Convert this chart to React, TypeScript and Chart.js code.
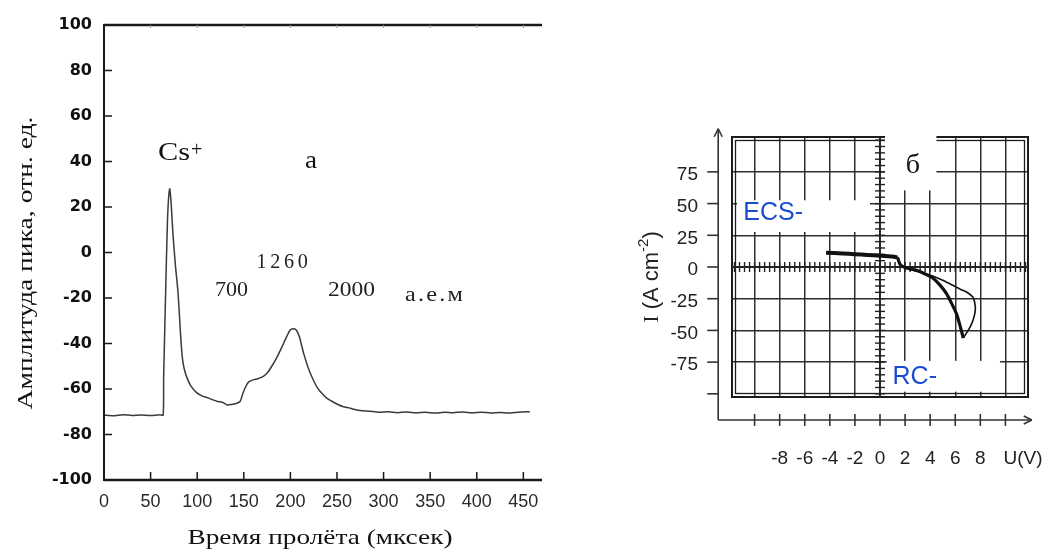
import React, { useEffect, useRef } from 'react';
import { Chart, registerables } from 'chart.js';

Chart.register(...registerables);

// ---- Panel "а": time-of-flight spectrum ----
const tofTime = [0, 10, 20, 30, 40, 50, 60, 63.5, 64, 66, 67, 68.5, 70.5, 72, 74, 76.5, 79.5, 82, 84, 86, 89, 93, 99, 105, 111, 117, 122, 127, 132, 137, 141, 146, 149, 152, 155, 160, 165, 171, 176, 180, 185, 191, 196, 200, 204, 207, 210, 214, 219, 224, 229, 234, 239, 245, 251, 257, 263, 269, 275, 285, 295, 305, 315, 325, 335, 345, 355, 365, 375, 385, 395, 405, 415, 425, 435, 445, 457];
const tofAmplitude = [-71.5, -71.8, -71.3, -71.6, -71.4, -71.7, -71.3, -71.5, -55, -20, -3, 18, 28, 22, 8, -5, -18, -35, -46, -51, -55, -58.5, -61.5, -63, -63.8, -64.8, -65.5, -65.8, -67, -66.8, -66.5, -65.5, -62, -59, -57, -56, -55.5, -54.5, -52.5, -50, -46.5, -41.5, -37, -34, -33.5, -34.5, -37.5, -44, -50.5, -55.5, -59.5, -62, -64, -65.5, -66.8, -67.8, -68.3, -69, -69.5, -69.8, -70.2, -70, -70.4, -70.1, -70.5, -70.2, -70.6, -70.2, -70.4, -70.1, -70.5, -70.2, -70.5, -70.3, -70.6, -70.2, -70];
const tofXTicks = [0, 50, 100, 150, 200, 250, 300, 350, 400, 450];
const tofYTicks = [-100, -80, -60, -40, -20, 0, 20, 40, 60, 80, 100];
const tofXTitle = 'Время пролёта (мксек)';
const tofYTitle = 'Амплитуда пика, отн. ед.';
const massLabels = ['700', '1260', '2000', 'а.е.м'];

// ---- Panel "б": I–U characteristic ----
const ivFlatU = [-4.3, -3, -2, -1, 0, 1, 1.4];
const ivFlatI = [11.3, 10.7, 10.1, 9.5, 8.9, 8.2, 7.6];
const ivDownU = [1.4, 1.6, 1.9, 2.4, 2.9, 3.6, 4.25, 4.8, 5.3, 5.7, 6.1, 6.4, 6.64];
const ivDownI = [7.6, 2, 0, -1.5, -2.6, -5.5, -9, -14.5, -21, -28.5, -37, -47, -56];
const ivBackU = [6.64, 6.9, 7.2, 7.45, 7.6, 7.55, 7.4, 6.9, 6.4, 5.8, 5.0, 4.25, 3.4, 2.65, 2.0];
const ivBackI = [-56, -52, -47, -41, -34, -28, -23.6, -19.7, -17.5, -14.4, -10.5, -7.3, -4.5, -2.6, -0.5];
const ivXTicks = [-10, -8, -6, -4, -2, 0, 2, 4, 6, 8, 10];
const ivYTicks = [-100, -75, -50, -25, 0, 25, 50, 75, 100];

const toPts = (xs: number[], ys: number[]) => xs.map((x, i) => ({ x, y: ys[i] }));

const SERIF = '"Liberation Serif", "DejaVu Serif", serif';
const SANS = '"Liberation Sans", Arial, sans-serif';

function fitText(ctx: CanvasRenderingContext2D, text: string, cx: number, cy: number, font: string, width: number, angle = 0, spacing = '0px') {
  ctx.save();
  ctx.font = font;
  (ctx as any).letterSpacing = spacing;
  ctx.textAlign = 'center';
  ctx.textBaseline = 'middle';
  ctx.translate(cx, cy);
  if (angle) ctx.rotate(angle);
  const w = ctx.measureText(text).width;
  ctx.scale(width / w, 1);
  ctx.fillText(text, 0, 0);
  ctx.restore();
}

function seg(ctx: CanvasRenderingContext2D, x1: number, y1: number, x2: number, y2: number) {
  ctx.beginPath();
  ctx.moveTo(x1, y1);
  ctx.lineTo(x2, y2);
  ctx.stroke();
}

const leftDecor = {
  id: 'leftDecor',
  afterDraw(chart: any) {
    const { ctx, chartArea: a, scales } = chart;
    const x = scales.x, y = scales.y;
    ctx.save();
    ctx.strokeStyle = '#1a1a1a';
    ctx.lineWidth = 2;
    seg(ctx, a.left, a.top - 1, a.left, a.bottom + 1);
    ctx.lineWidth = 2.5;
    seg(ctx, a.left, a.top, a.right, a.top);
    seg(ctx, a.left, a.bottom, a.right, a.bottom);
    ctx.lineWidth = 1.5;
    tofYTicks.forEach((v) => {
      if (v > -100 && v < 100) {
        const py = y.getPixelForValue(v);
        seg(ctx, a.left, py, a.left + 8, py);
      }
    });
    tofXTicks.forEach((v) => {
      if (v > 0) {
        const px = x.getPixelForValue(v);
        ctx.strokeStyle = '#1a1a1a';
        ctx.lineWidth = 1.5;
        seg(ctx, px, a.bottom, px, a.bottom - 8);
        ctx.strokeStyle = '#999';
        ctx.lineWidth = 1;
        seg(ctx, px, a.top, px, a.top + 3);
      }
    });
    ctx.fillStyle = '#111';
    fitText(ctx, tofXTitle, 320, 538, `22px ${SERIF}`, 265);
    fitText(ctx, tofYTitle, 26, 263, `22px ${SERIF}`, 293, -Math.PI / 2);
    ctx.font = `26px ${SERIF}`;
    ctx.textAlign = 'left';
    ctx.textBaseline = 'alphabetic';
    ctx.save();
    ctx.translate(158, 160);
    const cw = ctx.measureText('Cs').width;
    ctx.scale(32 / cw, 1);
    ctx.fillText('Cs', 0, 0);
    ctx.restore();
    ctx.font = `20px ${SERIF}`;
    ctx.fillText('+', 191, 156);
    fitText(ctx, 'а', 311, 161, `26px ${SERIF}`, 12);
    ctx.fillStyle = '#222';
    fitText(ctx, massLabels[0], 231.5, 290.5, `22px ${SERIF}`, 33);
    fitText(ctx, massLabels[1], 284, 262.5, `22px ${SERIF}`, 55, 0, '4px');
    fitText(ctx, massLabels[2], 351.5, 290.5, `22px ${SERIF}`, 47);
    fitText(ctx, massLabels[3], 435, 295, `22px ${SERIF}`, 60, 0, '2px');
    ctx.restore();
  },
};

const rightDecor = {
  id: 'rightDecor',
  beforeDatasetsDraw(chart: any) {
    const { ctx, chartArea: a, scales } = chart;
    const x = scales.x, y = scales.y;
    ctx.save();
    ctx.strokeStyle = '#1c1c1c';
    ctx.lineWidth = 2;
    ctx.strokeRect(a.left, a.top, a.right - a.left, a.bottom - a.top);
    ctx.lineWidth = 1.3;
    ctx.strokeRect(a.left + 3.5, a.top + 3.5, a.right - a.left - 7, a.bottom - a.top - 7);
    const x0 = x.getPixelForValue(0);
    const y0 = y.getPixelForValue(0);
    ctx.lineWidth = 1.4;
    ctx.strokeStyle = '#222';
    for (let i = -29; i <= 29; i++) {
      const px = x.getPixelForValue(i * 0.4);
      seg(ctx, px, y0 - 5, px, y0 + 5);
    }
    for (let i = -20; i <= 20; i++) {
      const py = y.getPixelForValue(i * 5);
      seg(ctx, x0 - 5, py, x0 + 5, py);
    }
    ctx.lineWidth = 1.8;
    seg(ctx, x0, a.top, x0, a.bottom);
    seg(ctx, a.left, y0, a.right, y0);
    ctx.fillStyle = '#fff';
    const patch = (u1: number, i1: number, u2: number, i2: number) => {
      const px1 = x.getPixelForValue(u1), px2 = x.getPixelForValue(u2);
      const py1 = y.getPixelForValue(i1), py2 = y.getPixelForValue(i2);
      ctx.fillRect(px1, py1, px2 - px1, py2 - py1);
    };
    patch(0.4, 108, 4.5, 60.4);
    patch(-11.4, 52.6, -0.8, 27.6);
    patch(0.53, -74, 9.56, -98.3);
    ctx.restore();
  },
  afterDatasetsDraw(chart: any) {
    const { ctx, scales } = chart;
    const x = scales.x, y = scales.y;
    ctx.save();
    ctx.fillStyle = '#111';
    ctx.font = `28px ${SERIF}`;
    ctx.textAlign = 'center';
    ctx.textBaseline = 'middle';
    ctx.fillText('б', x.getPixelForValue(2.63), y.getPixelForValue(80));
    ctx.fillStyle = '#1a4bd4';
    ctx.font = `25px ${SANS}`;
    ctx.textAlign = 'left';
    ctx.fillText('ECS-', x.getPixelForValue(-10.9), y.getPixelForValue(42.7));
    ctx.fillText('RC-', x.getPixelForValue(1.0), y.getPixelForValue(-87));
    ctx.restore();
  },
  afterDraw(chart: any) {
    const { ctx, scales } = chart;
    const x = scales.x, y = scales.y;
    ctx.save();
    ctx.strokeStyle = '#333';
    ctx.lineWidth = 1.6;
    const ax = x.getPixelForValue(-12.9);
    const ay = y.getPixelForValue(-120.6);
    const yTop = y.getPixelForValue(109);
    const xEnd = x.getPixelForValue(12.1);
    seg(ctx, ax, yTop, ax, ay);
    seg(ctx, ax, ay, xEnd, ay);
    seg(ctx, ax - 4, yTop + 8, ax, yTop);
    seg(ctx, ax + 4, yTop + 8, ax, yTop);
    seg(ctx, xEnd - 8, ay - 4, xEnd, ay);
    seg(ctx, xEnd - 8, ay + 4, xEnd, ay);
    ivYTicks.forEach((v) => {
      if (v < 100) {
        const py = y.getPixelForValue(v);
        seg(ctx, ax - 11, py, ax, py);
      }
    });
    ivXTicks.forEach((v) => {
      const px = x.getPixelForValue(v);
      seg(ctx, px, ay - 6, px, ay + 6);
    });
    ctx.fillStyle = '#222';
    ctx.font = `19px ${SANS}`;
    ctx.textAlign = 'center';
    ctx.textBaseline = 'middle';
    ctx.fillText('U(V)', 423, 359);
    ctx.translate(50, 177);
    ctx.rotate(-Math.PI / 2);
    ctx.textAlign = 'left';
    ctx.textBaseline = 'alphabetic';
    const pI = 'I', p1 = ' (A cm', p2 = '-2', p3 = ')';
    ctx.font = `22px ${SERIF}`;
    const wI = ctx.measureText(pI).width;
    ctx.font = `22px ${SANS}`;
    const w1 = ctx.measureText(p1).width;
    const w3 = ctx.measureText(p3).width;
    ctx.font = `15px ${SANS}`;
    const w2 = ctx.measureText(p2).width;
    let cx = -(wI + w1 + w2 + w3) / 2;
    const base = 8;
    ctx.font = `22px ${SERIF}`;
    ctx.fillText(pI, cx, base);
    cx += wI;
    ctx.font = `22px ${SANS}`;
    ctx.fillText(p1, cx, base);
    cx += w1;
    ctx.font = `15px ${SANS}`;
    ctx.fillText(p2, cx, base - 10);
    cx += w2;
    ctx.font = `22px ${SANS}`;
    ctx.fillText(p3, cx, base);
    ctx.restore();
  },
};

function TofChart() {
  const ref = useRef<HTMLCanvasElement | null>(null);
  useEffect(() => {
    if (!ref.current) return;
    const chart = new Chart(ref.current, {
      type: 'scatter',
      data: {
        datasets: [
          {
            data: toPts(tofTime, tofAmplitude),
            showLine: true,
            borderColor: '#3a3a3a',
            borderWidth: 1.5,
            pointRadius: 0,
            tension: 0.2,
          },
        ],
      },
      options: {
        responsive: false,
        animation: false,
        devicePixelRatio: 1,
        layout: { padding: { top: 25, right: 18, left: 0, bottom: 0 } },
        plugins: { legend: { display: false }, tooltip: { enabled: false } },
        scales: {
          x: {
            type: 'linear',
            min: 0,
            max: 470,
            afterFit: (s: any) => { s.height = 74; },
            afterBuildTicks: (s: any) => { s.ticks = tofXTicks.map((v) => ({ value: v })); },
            grid: { display: false, drawTicks: false },
            border: { display: false },
            ticks: {
              padding: 11,
              maxRotation: 0,
              autoSkip: false,
              color: '#2a2a2a',
              font: { family: '"Liberation Sans", Arial, sans-serif', size: 18 },
              callback: (v: any) => String(v),
            },
          },
          y: {
            type: 'linear',
            min: -100,
            max: 100,
            afterFit: (s: any) => { s.width = 104; },
            afterBuildTicks: (s: any) => { s.ticks = tofYTicks.map((v) => ({ value: v })); },
            grid: { display: false, drawTicks: false },
            border: { display: false },
            ticks: {
              padding: 12,
              autoSkip: false,
              color: '#111',
              font: { family: '"DejaVu Sans", sans-serif', size: 16, weight: 'bold' },
              callback: (v: any) => String(v),
            },
          },
        },
      },
      plugins: [leftDecor],
    } as any);
    return () => chart.destroy();
  }, []);
  return <canvas ref={ref} width={560} height={554} style={{ position: 'absolute', left: 0, top: 0, width: 560, height: 554 }} />;
}

function IvChart() {
  const ref = useRef<HTMLCanvasElement | null>(null);
  useEffect(() => {
    if (!ref.current) return;
    const chart = new Chart(ref.current, {
      type: 'scatter',
      data: {
        datasets: [
          { data: toPts(ivFlatU, ivFlatI), showLine: true, borderColor: '#111', borderWidth: 4, pointRadius: 0, tension: 0.2 },
          { data: toPts(ivDownU, ivDownI), showLine: true, borderColor: '#111', borderWidth: 3.2, pointRadius: 0, tension: 0.3 },
          { data: toPts(ivBackU, ivBackI), showLine: true, borderColor: '#111', borderWidth: 1.6, pointRadius: 0, tension: 0.3 },
        ],
      },
      options: {
        responsive: false,
        animation: false,
        devicePixelRatio: 1,
        layout: { padding: { top: 37, right: 17, left: 0, bottom: 0 } },
        plugins: { legend: { display: false }, tooltip: { enabled: false } },
        scales: {
          x: {
            type: 'linear',
            min: -11.8,
            max: 11.8,
            afterFit: (s: any) => { s.height = 83; },
            afterBuildTicks: (s: any) => { s.ticks = ivXTicks.map((v) => ({ value: v })); },
            grid: { color: '#2e2e2e', lineWidth: 1.5, drawTicks: true, tickLength: 48, tickColor: 'rgba(0,0,0,0)' },
            border: { display: false },
            ticks: {
              padding: 2,
              maxRotation: 0,
              autoSkip: false,
              color: '#222',
              font: { family: '"Liberation Sans", Arial, sans-serif', size: 19 },
              callback: (v: any) => (Math.abs(v) <= 8 ? String(v) : ''),
            },
          },
          y: {
            type: 'linear',
            min: -102.5,
            max: 102.5,
            afterFit: (s: any) => { s.width = 132; },
            afterBuildTicks: (s: any) => { s.ticks = ivYTicks.map((v) => ({ value: v })); },
            grid: {
              color: (c: any) => (c.tick && Math.abs(c.tick.value) === 100 ? 'rgba(0,0,0,0)' : '#2e2e2e'),
              lineWidth: 1.5,
              drawTicks: true,
              tickLength: 32,
              tickColor: 'rgba(0,0,0,0)',
            },
            border: { display: false },
            ticks: {
              padding: 2,
              labelOffset: 3,
              autoSkip: false,
              color: '#222',
              font: { family: '"Liberation Sans", Arial, sans-serif', size: 19 },
              callback: (v: any) => (Math.abs(v) <= 75 ? String(v) : ''),
            },
          },
        },
      },
      plugins: [rightDecor],
    } as any);
    return () => chart.destroy();
  }, []);
  return <canvas ref={ref} width={445} height={380} style={{ position: 'absolute', left: 600, top: 100, width: 445, height: 380 }} />;
}

export default function App() {
  return (
    <div style={{ position: 'fixed', left: 0, top: 0, width: 1045, height: 554, background: '#fff', overflow: 'hidden' }}>
      <TofChart />
      <IvChart />
    </div>
  );
}
